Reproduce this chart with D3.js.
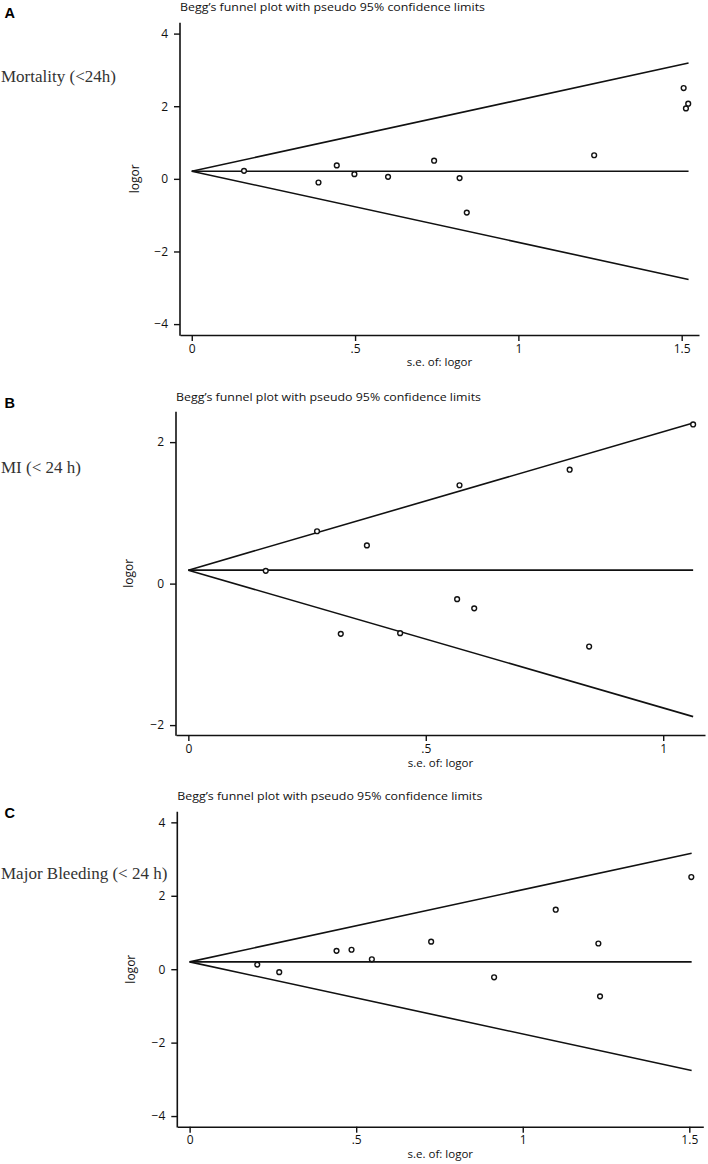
<!DOCTYPE html>
<html>
<head>
<meta charset="utf-8">
<script src="https://cdn.jsdelivr.net/npm/d3@7"></script>
<style>
  html, body { margin: 0; padding: 0; background: #fff; }
  svg { display: block; }
</style>
</head>
<body>
<div id="chart"></div>
<script>
// ---------------- DATA ----------------
const panelLetters = ["A", "B", "C"];
const outcomeLabels = ["Mortality (<24h)", "MI (< 24 h)", "Major Bleeding (< 24 h)"];
const plotTitle = "Begg\u2019s funnel plot with pseudo 95% confidence limits";
const xAxisTitle = "s.e. of: logor";
const yAxisTitle = "logor";

// Panel A – Mortality
const seA    = [0.160, 0.388, 0.444, 0.498, 0.601, 0.742, 0.820, 0.842, 1.232, 1.506, 1.520, 1.513];
const logorA = [0.22, -0.10, 0.37, 0.13, 0.055, 0.50, 0.02, -0.93, 0.65, 2.50, 2.07, 1.94];
// Panel B – MI
const seB    = [0.163, 0.271, 0.376, 0.321, 0.446, 0.571, 0.803, 1.063, 0.566, 0.602, 0.844];
const logorB = [0.18, 0.74, 0.54, -0.71, -0.70, 1.39, 1.61, 2.25, -0.22, -0.35, -0.89];
// Panel C – Major bleeding
const seC    = [0.203, 0.269, 0.441, 0.486, 0.547, 0.725, 0.914, 1.099, 1.227, 1.232, 1.506];
const logorC = [0.125, -0.08, 0.50, 0.53, 0.27, 0.75, -0.22, 1.62, 0.70, -0.74, 2.51];

// Funnel lines: pooled estimate, end s.e., upper and lower limit at end
const pooledEstimate = [0.21, 0.19, 0.20];
const funnelSeEnd    = [1.521, 1.063, 1.507];
const funnelUpperEnd = [3.19, 2.27, 3.16];
const funnelLowerEnd = [-2.77, -1.88, -2.76];

// Tick values and labels
const xTicksAC = [0, 0.5, 1, 1.5];
const xTickLabelsAC = ["0", ".5", "1", "1.5"];
const xTicksB = [0, 0.5, 1];
const xTickLabelsB = ["0", ".5", "1"];
const yTicksAC = [-4, -2, 0, 2, 4];
const yTicksB = [-2, 0, 2];

// ---------------- LAYOUT ----------------
const W = 708, H = 1164;
const layout = [
  { left: 180, right: 699, top: 22.7, bottom: 335, xDom: [-0.036, 1.553], yDom: [-4.3, 4.3],
    titleY: 6.7, letterY: 12.7, labelY: 76.7, ylabOff: 41, xTitleOff: 31 },
  { left: 176, right: 705, top: 411.7, bottom: 735, xDom: [-0.026, 1.088], yDom: [-2.14, 2.43],
    titleY: 397.3, letterY: 403.3, labelY: 468, ylabOff: 43, xTitleOff: 31.5 },
  { left: 177.3, right: 703.3, top: 811.7, bottom: 1126.7, xDom: [-0.037, 1.542], yDom: [-4.29, 4.29],
    titleY: 796, letterY: 813.3, labelY: 874.3, ylabOff: 42, xTitleOff: 31 }
];

const panels = [
  { se: seA, logor: logorA, xTicks: xTicksAC, xLabels: xTickLabelsAC, yTicks: yTicksAC },
  { se: seB, logor: logorB, xTicks: xTicksB, xLabels: xTickLabelsB, yTicks: yTicksB },
  { se: seC, logor: logorC, xTicks: xTicksAC, xLabels: xTickLabelsAC, yTicks: yTicksAC }
];

const sansFont = "'Open Sans', 'Noto Sans', sans-serif";
const serifFont = "'Liberation Serif', 'DejaVu Serif', serif";
const ink = "#111";

const svg = d3.select("#chart").append("svg")
  .attr("width", W).attr("height", H)
  .attr("viewBox", `0 0 ${W} ${H}`);

panels.forEach((p, i) => {
  const L = layout[i];
  const g = svg.append("g");
  const x = d3.scaleLinear().domain(L.xDom).range([L.left, L.right]);
  const y = d3.scaleLinear().domain(L.yDom).range([L.bottom, L.top]);

  // Panel letter
  g.append("text")
    .attr("x", 4.5).attr("y", L.letterY + 5)
    .attr("font-family", "'Liberation Sans', Arial, sans-serif")
    .attr("font-weight", "bold").attr("font-size", 14.5)
    .attr("fill", "#000")
    .text(panelLetters[i]);

  // Outcome label (serif)
  g.append("text")
    .attr("x", 1).attr("y", L.labelY + 5)
    .attr("font-family", serifFont).attr("font-size", 17)
    .attr("fill", "#333")
    .text(outcomeLabels[i]);

  // Title
  g.append("text")
    .attr("x", L.left).attr("y", L.titleY + 4)
    .attr("font-family", sansFont).attr("font-size", 11.5)
    .attr("textLength", 305).attr("lengthAdjust", "spacingAndGlyphs")
    .attr("fill", ink)
    .text(plotTitle);

  // Axes
  const yAxis = d3.axisLeft(y).tickValues(p.yTicks)
    .tickSizeInner(6).tickSizeOuter(0).tickPadding(6)
    .tickFormat(d => d3.format("d")(d));
  const gy = g.append("g").attr("transform", `translate(${L.left},0)`).call(yAxis);

  const xAxis = d3.axisBottom(x).tickValues(p.xTicks)
    .tickSizeInner(6).tickSizeOuter(0).tickPadding(3)
    .tickFormat((d, k) => p.xLabels[k]);
  const gx = g.append("g").attr("transform", `translate(0,${L.bottom})`).call(xAxis);

  [gx, gy].forEach(ax => {
    ax.select(".domain").attr("stroke", ink).attr("stroke-width", 1.6);
    ax.selectAll(".tick line").attr("stroke", ink).attr("stroke-width", 1.4);
    ax.selectAll(".tick text").attr("font-family", sansFont).attr("font-size", 12).attr("fill", ink);
  });
  // extend domain line so the axes meet at the corner
  gy.select(".domain").attr("d", `M0,${L.top}V${L.bottom + 0.8}`);

  // Axis titles
  g.append("text")
    .attr("x", (L.left + L.right) / 2).attr("y", L.bottom + L.xTitleOff)
    .attr("text-anchor", "middle")
    .attr("font-family", sansFont).attr("font-size", 11.5).attr("fill", ink)
    .text(xAxisTitle);
  g.append("text")
    .attr("transform", `translate(${L.left - L.ylabOff},${(L.top + L.bottom) / 2}) rotate(-90)`)
    .attr("text-anchor", "middle")
    .attr("font-family", sansFont).attr("font-size", 12).attr("fill", ink)
    .text(yAxisTitle);

  // Funnel lines
  const th = pooledEstimate[i], se1 = funnelSeEnd[i];
  const lines = [
    [[0, th], [se1, funnelUpperEnd[i]]],
    [[0, th], [se1, th]],
    [[0, th], [se1, funnelLowerEnd[i]]]
  ];
  const lineGen = d3.line().x(d => x(d[0])).y(d => y(d[1]));
  g.selectAll("path.funnel").data(lines).enter().append("path")
    .attr("class", "funnel")
    .attr("d", lineGen)
    .attr("fill", "none").attr("stroke", ink).attr("stroke-width", 1.6);

  // Points
  const pts = p.se.map((s, k) => ({ se: s, v: p.logor[k] }));
  g.selectAll("circle").data(pts).enter().append("circle")
    .attr("cx", d => x(d.se)).attr("cy", d => y(d.v))
    .attr("r", 2.4)
    .attr("fill", "#fff").attr("stroke", ink).attr("stroke-width", 1.4);
});
</script>
</body>
</html>
